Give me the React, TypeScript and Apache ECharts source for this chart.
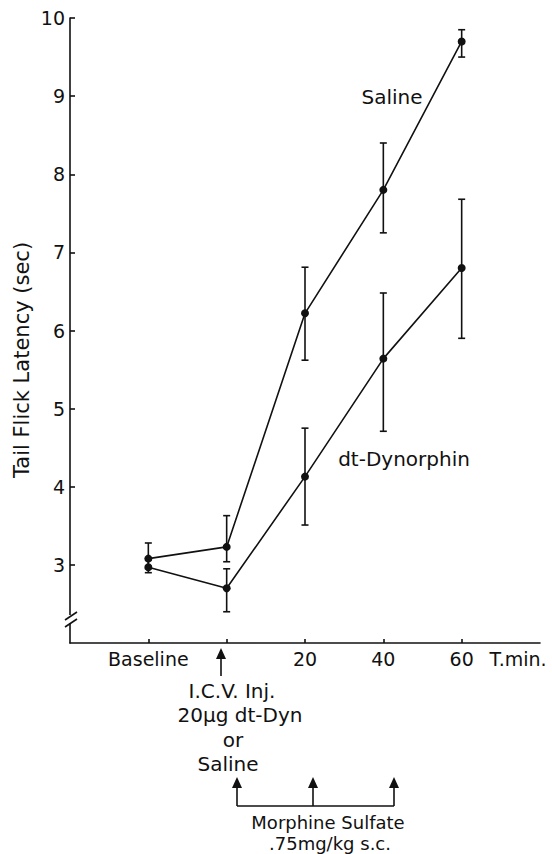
import React, { useEffect, useRef } from "react";
import * as echarts from "echarts";

const timePoints = [-20, 0, 20, 40, 60];
const salineMean = [3.08, 3.23, 6.22, 7.8, 9.7];
const salineLow = [2.95, 3.04, 5.62, 7.25, 9.5];
const salineHigh = [3.28, 3.63, 6.81, 8.4, 9.85];
const dynMean = [2.97, 2.7, 4.13, 5.64, 6.8];
const dynLow = [2.9, 2.4, 3.51, 4.71, 5.9];
const dynHigh = [3.08, 2.95, 4.75, 6.48, 7.68];
const xTickValues = [-20, 0, 20, 40, 60];
const xTickLabels = ["Baseline", "", "20", "40", "60"];
const yTickValues = [3, 4, 5, 6, 7, 8, 9, 10];

const FONT = "DejaVu Sans";
const INK = "#111";

export default function App() {
  const ref = useRef<HTMLDivElement>(null);
  useEffect(() => {
    if (!ref.current) return;
    const chart = echarts.init(ref.current, undefined, { renderer: "svg" });
    const errData = (lo: number[], hi: number[]) =>
      timePoints.map((t, i) => [t, lo[i], hi[i]]);
    const errSeries = (name: string, lo: number[], hi: number[]) => ({
      type: "custom",
      name,
      z: 3,
      renderItem: (params: any, api: any) => {
        const x = api.value(0);
        const p1 = api.coord([x, api.value(1)]);
        const p2 = api.coord([x, api.value(2)]);
        const c = 3.5;
        const st = { stroke: INK, lineWidth: 1.6 };
        return {
          type: "group",
          children: [
            { type: "line", shape: { x1: p1[0], y1: p1[1], x2: p2[0], y2: p2[1] }, style: st },
            { type: "line", shape: { x1: p1[0] - c, y1: p1[1], x2: p1[0] + c, y2: p1[1] }, style: st },
            { type: "line", shape: { x1: p2[0] - c, y1: p2[1], x2: p2[0] + c, y2: p2[1] }, style: st },
          ],
        };
      },
      data: errData(lo, hi),
    });
    const lineSeries = (name: string, vals: number[]) => ({
      type: "line",
      name,
      z: 4,
      data: timePoints.map((t, i) => [t, vals[i]]),
      symbol: "circle",
      symbolSize: 8,
      lineStyle: { color: INK, width: 1.6 },
      itemStyle: { color: INK },
    });
    const txt = (text: string, x: number, y: number, size = 20) => ({
      type: "text",
      x,
      y,
      z: 10,
      style: {
        text,
        fill: INK,
        font: `${size}px "${FONT}"`,
        align: "center",
        verticalAlign: "middle",
      },
    });
    const arrowUp = (x: number, top: number, bottom: number) => [
      {
        type: "polygon",
        z: 10,
        shape: { points: [[x, top], [x - 5, top + 11], [x + 5, top + 11]] },
        style: { fill: INK },
      },
      {
        type: "line",
        z: 10,
        shape: { x1: x, y1: top + 9, x2: x, y2: bottom },
        style: { stroke: INK, lineWidth: 1.6 },
      },
    ];
    chart.setOption({
      animation: false,
      grid: { left: 70, right: 12, top: 18, bottom: 211 },
      xAxis: {
        type: "value",
        min: -40,
        max: 80,
        interval: 20,
        splitLine: { show: false },
        axisLine: { onZero: false, lineStyle: { color: INK, width: 1.6 } },
        axisTick: {
          inside: true,
          length: 4,
          customValues: xTickValues,
          lineStyle: { color: INK, width: 1.6 },
        },
        axisLabel: {
          customValues: xTickValues,
          margin: 6,
          color: INK,
          fontFamily: FONT,
          fontSize: 19,
          formatter: (v: number) => {
            const i = xTickValues.indexOf(v);
            return i >= 0 ? xTickLabels[i] : "";
          },
        },
      },
      yAxis: {
        type: "value",
        min: 2,
        max: 10,
        interval: 1,
        splitLine: { show: false },
        axisLine: { show: true, onZero: false, lineStyle: { color: INK, width: 1.6 } },
        axisTick: {
          show: true,
          inside: true,
          length: 5,
          customValues: yTickValues,
          lineStyle: { color: INK, width: 1.6 },
        },
        axisLabel: {
          customValues: yTickValues,
          margin: 5,
          color: INK,
          fontFamily: FONT,
          fontSize: 19,
        },
      },
      graphic: [
        {
          type: "text",
          x: 22,
          y: 360,
          rotation: Math.PI / 2,
          z: 10,
          style: {
            text: "Tail Flick Latency (sec)",
            fill: INK,
            font: `21px "${FONT}"`,
            align: "center",
            verticalAlign: "middle",
          },
        },
        // axis break
        {
          type: "rect",
          z: 10,
          shape: { x: 66, y: 615, width: 8, height: 8 },
          style: { fill: "#fff" },
        },
        {
          type: "line",
          z: 11,
          shape: { x1: 65, y1: 620, x2: 77, y2: 612 },
          style: { stroke: INK, lineWidth: 1.6 },
        },
        {
          type: "line",
          z: 11,
          shape: { x1: 65, y1: 627, x2: 77, y2: 619 },
          style: { stroke: INK, lineWidth: 1.6 },
        },
        txt("Saline", 392, 97),
        txt("dt-Dynorphin", 404, 459),
        txt("T.min.", 518, 659, 19),
        ...arrowUp(221, 648, 676),
        txt("I.C.V. Inj.", 232, 691),
        txt("20\u00b5g dt-Dyn", 240, 715),
        txt("or", 233, 740),
        txt("Saline", 228, 764),
        ...arrowUp(237, 777, 806),
        ...arrowUp(313, 777, 806),
        ...arrowUp(394, 777, 806),
        {
          type: "line",
          z: 10,
          shape: { x1: 237, y1: 806, x2: 394, y2: 806 },
          style: { stroke: INK, lineWidth: 1.6 },
        },
        txt("Morphine Sulfate", 328, 822, 18),
        txt(".75mg/kg s.c.", 330, 843, 18),
      ],
      series: [
        errSeries("Saline SE", salineLow, salineHigh),
        errSeries("dt-Dynorphin SE", dynLow, dynHigh),
        lineSeries("Saline", salineMean),
        lineSeries("dt-Dynorphin", dynMean),
      ],
    });
    return () => chart.dispose();
  }, []);
  return <div ref={ref} style={{ width: 552, height: 854, position: "absolute", left: 0, top: 0 }} />;
}
